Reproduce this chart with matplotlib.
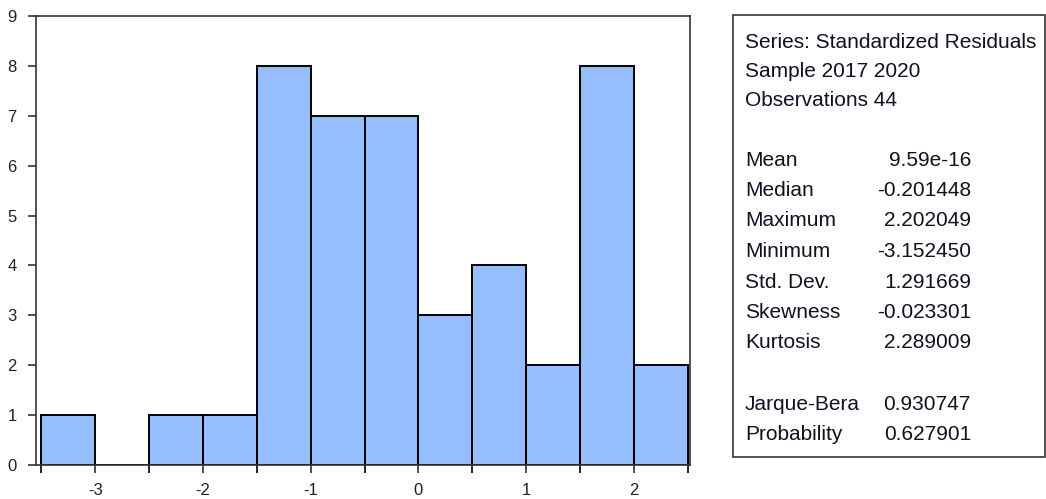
import numpy as np
import matplotlib.pyplot as plt

# histogram of standardized residuals (bin edges and counts)
bin_edges = [-3.5, -3.0, -2.5, -2.0, -1.5, -1.0, -0.5, 0.0, 0.5, 1.0, 1.5, 2.0, 2.5]
counts = [1, 0, 1, 1, 8, 7, 7, 3, 4, 2, 8, 2]

header_lines = ["Series: Standardized Residuals", "Sample 2017 2020", "Observations 44"]
stat_names = ["Mean", "Median", "Maximum", "Minimum", "Std. Dev.", "Skewness", "Kurtosis"]
stat_values = ["9.59e-16", "-0.201448", "2.202049", "-3.152450", "1.291669", "-0.023301", "2.289009"]
test_names = ["Jarque-Bera", "Probability"]
test_values = ["0.930747", "0.627901"]

plt.rcParams['font.family'] = ['Liberation Sans', 'DejaVu Sans']

W, H = 1046, 499
fig = plt.figure(figsize=(W / 100, H / 100), dpi=100)
ax = fig.add_axes([36 / W, 1 - 465 / H, (690 - 36) / W, (465 - 16) / H])

ax.bar(bin_edges[:-1], counts, width=np.diff(bin_edges), align='edge',
       color='#96BEFF', edgecolor='black', linewidth=1.4)

ax.set_xlim(-3.55, 2.52)
ax.set_ylim(0, 9)
ax.set_yticks(range(0, 10))
ax.set_xticks([-3, -2, -1, 0, 1, 2])
ax.set_xticklabels(['-3', '-2', '-1', '0', '1', '2'])
ax.set_xticks(bin_edges, minor=True)
ax.tick_params(axis='both', direction='out', length=6, width=1.2, labelsize=12, color='#333333',
               labelcolor='#222222')
ax.tick_params(axis='x', which='minor', direction='out', length=6, width=1.2)
ax.tick_params(axis='x', pad=7)
ax.tick_params(axis='y', pad=8)
for s in ax.spines.values():
    s.set_linewidth(1.2)
    s.set_color('#333333')

# statistics box
fx = lambda px: px / W
fy = lambda py: 1 - py / H
box = plt.Rectangle((fx(733), fy(457)), fx(1045) - fx(733), fy(15) - fy(457),
                    transform=fig.transFigure, fill=False, edgecolor='#333333', linewidth=1.2)
fig.patches.append(box)

fs = 15
y = 42
for line in header_lines:
    fig.text(fx(745), fy(y), line, fontsize=fs, va='center', ha='left', color='#111122')
    y += 29.5
y = 160
for name, val in zip(stat_names, stat_values):
    fig.text(fx(745), fy(y), name, fontsize=fs, va='center', ha='left', color='#111122')
    fig.text(fx(971), fy(y), val, fontsize=fs, va='center', ha='right', color='#111122')
    y += 30.5
y = 405
for name, val in zip(test_names, test_values):
    fig.text(fx(745), fy(y), name, fontsize=fs, va='center', ha='left', color='#111122')
    fig.text(fx(971), fy(y), val, fontsize=fs, va='center', ha='right', color='#111122')
    y += 29.5

fig.savefig('out.png', dpi=100)
